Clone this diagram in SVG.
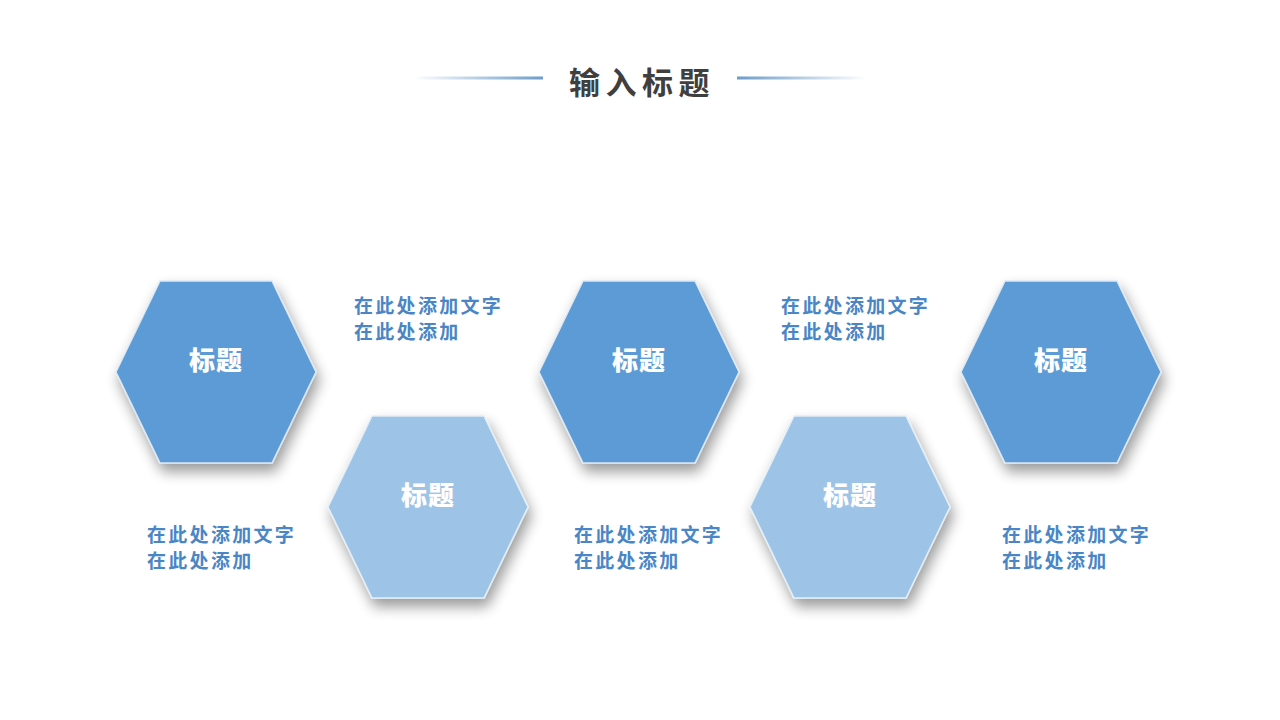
<svg xmlns="http://www.w3.org/2000/svg" width="1280" height="720" viewBox="0 0 1280 720">
<defs>
<linearGradient id="lgL" x1="0" y1="0" x2="1" y2="0">
<stop offset="0" stop-color="#6C9CC8" stop-opacity="0"/>
<stop offset="1" stop-color="#6C9CC8"/>
</linearGradient>
<linearGradient id="lgR" x1="0" y1="0" x2="1" y2="0">
<stop offset="0" stop-color="#6C9CC8"/>
<stop offset="1" stop-color="#6C9CC8" stop-opacity="0"/>
</linearGradient>
<filter id="sh" x="-25%" y="-25%" width="160%" height="160%">
<feGaussianBlur in="SourceAlpha" stdDeviation="7"/>
<feOffset dx="3" dy="8" result="b"/>
<feComponentTransfer><feFuncA type="linear" slope="0.4"/></feComponentTransfer>
<feMerge><feMergeNode/><feMergeNode in="SourceGraphic"/></feMerge>
</filter>
<polygon id="hex" points="-100,0 -56,-91 56,-91 100,0 56,91 -56,91"/>
</defs>
<style>
.dark{fill:#5B9BD5;stroke:#DDE8F3;stroke-width:1.5}
.light{fill:#9DC3E6;stroke:#E4EEF7;stroke-width:1.5}
.ht{font-family:"Noto Sans CJK SC","Noto Sans",sans-serif;font-weight:900;font-size:26px;fill:#FFFFFF;text-anchor:middle;letter-spacing:1px}
.bt{font-family:"Noto Sans CJK SC","Noto Sans",sans-serif;font-weight:700;font-size:19px;fill:#4A86C5;letter-spacing:2.3px}
.title{font-family:"Noto Sans CJK SC","Noto Sans",sans-serif;font-weight:700;font-size:31px;fill:#3F3F3F;text-anchor:middle;letter-spacing:5.5px}
</style>
<rect width="1280" height="720" fill="#FFFFFF"/>
<g id="title">
<rect x="413" y="76.5" width="130" height="3" fill="url(#lgL)"/>
<rect x="737" y="76.5" width="130" height="3" fill="url(#lgR)"/>
<text class="title" x="642" y="94">输入标题</text>
</g>
<g id="connectors"></g>
<g id="node1" transform="translate(216,372)">
<use href="#hex" class="dark" filter="url(#sh)"/>
<text class="ht" x="0" y="-2">标题</text>
</g>
<g id="node2" transform="translate(428,507)">
<use href="#hex" class="light" filter="url(#sh)"/>
<text class="ht" x="0" y="-2">标题</text>
</g>
<g id="node3" transform="translate(639,372)">
<use href="#hex" class="dark" filter="url(#sh)"/>
<text class="ht" x="0" y="-2">标题</text>
</g>
<g id="node4" transform="translate(850,507)">
<use href="#hex" class="light" filter="url(#sh)"/>
<text class="ht" x="0" y="-2">标题</text>
</g>
<g id="node5" transform="translate(1061,372)">
<use href="#hex" class="dark" filter="url(#sh)"/>
<text class="ht" x="0" y="-2">标题</text>
</g>
<g id="text1">
<text class="bt" x="354" y="313">在此处添加文字</text>
<text class="bt" x="354" y="339">在此处添加</text>
</g>
<g id="text2">
<text class="bt" x="781" y="313">在此处添加文字</text>
<text class="bt" x="781" y="339">在此处添加</text>
</g>
<g id="text3">
<text class="bt" x="147" y="542">在此处添加文字</text>
<text class="bt" x="147" y="568">在此处添加</text>
</g>
<g id="text4">
<text class="bt" x="574" y="542">在此处添加文字</text>
<text class="bt" x="574" y="568">在此处添加</text>
</g>
<g id="text5">
<text class="bt" x="1002" y="542">在此处添加文字</text>
<text class="bt" x="1002" y="568">在此处添加</text>
</g>
</svg>
